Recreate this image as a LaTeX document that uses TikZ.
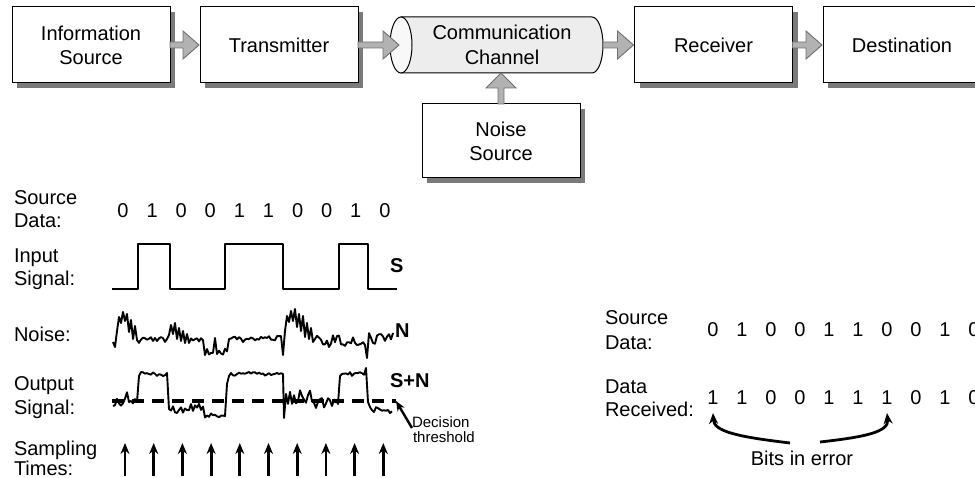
\documentclass[tikz,border=0pt]{standalone}
\usepackage{fontspec}
\setmainfont{Liberation Sans}
\usetikzlibrary{arrows.meta,shadows,calc}

\definecolor{arrowgray}{HTML}{B2B2B2}
\definecolor{arrowedge}{HTML}{6F6F6F}
\definecolor{shadowgray}{HTML}{7A7A7A}
\definecolor{chanbody}{HTML}{EDEDED}
\definecolor{chanend}{HTML}{F8F8F8}

% grey block arrow between two points (horizontal, centred on the end point)
\newcommand\flowarrow[2]{%
  \path[blockarrow] let \p1=(#1), \p2=(#2) in
    (\x1,\y2+3pt) -- (\x2-16pt,\y2+3pt) -- (\x2-16pt,\y2+14pt) -- (\x2,\y2)
    -- (\x2-16pt,\y2-14pt) -- (\x2-16pt,\y2-3pt) -- (\x1,\y2-3pt) -- cycle;}

\tikzset{
  every node/.style={inner sep=0pt, outer sep=0pt},
  box/.style={draw=black, line width=1pt, fill=white,
    minimum width=158pt, minimum height=76pt, align=center,
    font=\fontsize{20}{24}\selectfont,
    drop shadow={shadow xshift=5pt, shadow yshift=-5pt, fill=shadowgray, opacity=1}},
  blockarrow/.style={fill=arrowgray, draw=arrowedge, line width=0.9pt},
  lbl/.style={anchor=base west, font=\fontsize{20}{24}\selectfont},
  bit/.style={anchor=base, font=\fontsize{20}{24}\selectfont},
  tag/.style={anchor=base west, font=\bfseries\fontsize{20}{24}\selectfont},
  small/.style={anchor=base west, font=\fontsize{15}{17}\selectfont},
  wave/.style={line width=1.9pt, line join=round},
  pointer/.style={line width=2.8pt, -{Stealth[length=11pt,width=9pt]}},
}

\begin{document}
\begin{tikzpicture}[x=1pt, y=-1pt]
\useasboundingbox (0,0) rectangle (975,478);
\pgfmathsetseed{4}

% ---------------- block diagram ----------------
\node[box] (src) at (91,45)  {Information\\Source};
\node[box] (tx)  at (279,45) {Transmitter};
\node[box] (rx)  at (713.5,45) {Receiver};
\node[box] (dst) at (902,45) {Destination};
\node[box, minimum height=74pt] (noise) at (501,141) {Noise\\Source};

% channel drawn as a horizontal cylinder
\draw[line width=1pt, fill=chanbody] (401,17) -- (592,17)
  arc[start angle=-90, end angle=90, x radius=11, y radius=28]
  -- (401,73) -- cycle;
\draw[line width=1pt, fill=chanend] (401,45) ellipse [x radius=11, y radius=28];
\node[minimum width=202pt, minimum height=56pt, align=center,
      font=\fontsize{20}{25}\selectfont] (chan) at (502,45) {Communication\\Channel};

\flowarrow{src.east}{[xshift=-1pt]tx.west}
\flowarrow{tx.east}{[xshift=-2pt]chan.west}
\flowarrow{chan.east}{[xshift=-1pt]rx.west}
\flowarrow{rx.east}{[xshift=-1pt]dst.west}
\path[blockarrow] let \p1=(noise.north), \p2=(chan.south) in
  (\x1-3pt,\y1) -- (\x1-3pt,\y2-15pt) -- (\x1-15pt,\y2-15pt) -- (\x1,\y2)
  -- (\x1+15pt,\y2-15pt) -- (\x1+3pt,\y2-15pt) -- (\x1+3pt,\y1) -- cycle;

% ---------------- waveforms ----------------
\node[lbl] (l1a) at (14,205) {Source};
\node[lbl] (l1b) at (14,228) {Data:};
\node[lbl] (l2a) at (14,263) {Input};
\node[lbl] (l2b) at (14,286) {Signal:};
\node[lbl] (l3)  at (14,342) {Noise:};
\node[lbl] (l4a) at (14,390) {Output};
\node[lbl] (l4b) at (14,414) {Signal:};
\node[lbl] (l5a) at (14,455) {Sampling};
\node[lbl] (l5b) at (14,475) {Times:};

\foreach \v [count=\i from 0] in {0,1,0,0,1,1,0,0,1,0}
  \node[bit] (sa\i) at ({123+29.1*\i},218) {\v};

% input signal
\draw[wave, line width=1.6pt] (112,289) -- (138,289) -- (138,244) -- (170,244) -- (170,289)
  -- (225,289) -- (225,244) -- (283,244) -- (283,289) -- (339,289)
  -- (339,244) -- (368,244) -- (368,289) -- (397,289);
\node[tag] (stag) at (390,273) {S};

% noise
\draw[wave] (113,342) -- (115,347) -- (117,331) -- (119,317) -- (121,323)
  -- (123,312) -- (125,321) -- (127,314) -- (129,332) -- (131,320)
  -- (133,339) -- (135,326) -- (137,340)
  \foreach \x in {139,141,...,167} { -- (\x,{340+3.5*rand}) }
  -- (169,335) -- (171,325) -- (173,334) -- (175,323) -- (177,339)
  -- (179,328) -- (181,341) -- (183,331) -- (185,343) -- (187,334) -- (189,343)
  \foreach \x in {191,193,...,203} { -- (\x,{342+4*rand}) }
  -- (205,355)
  \foreach \x in {207,209,...,213} { -- (\x,{353+4*rand}) }
  -- (215,338) -- (217,354)
  \foreach \x in {219,221,...,227} { -- (\x,{352+4*rand}) }
  -- (229,339)
  \foreach \x in {231,233,...,281} { -- (\x,{340-0.06*(\x-231)+3*rand}) }
  -- (283,355) -- (285,331) -- (287,316) -- (289,322) -- (291,311)
  -- (293,321) -- (295,309) -- (297,327) -- (299,314) -- (301,331)
  -- (303,316) -- (305,337) -- (307,323) -- (309,339) -- (311,328) -- (313,342)
  \foreach \x in {315,317,...,365} { -- (\x,{341+6*rand}) }
  -- (367,358)
  \foreach \x in {369,371,...,391} { -- (\x,{339+6*rand}) }
  -- (393,333);
\node[tag] (ntag) at (395,338) {N};

% output signal = signal + noise
\draw[wave] (113,406)
  \foreach \x in {115,117,...,135} { -- (\x,{399+7*rand}) }
  -- (137,402) -- (139,376) -- (141,372)
  \foreach \x in {143,145,...,165} { -- (\x,{374+2*rand}) }
  -- (167,373) -- (169,409)
  \foreach \x in {171,173,...,203} { -- (\x,{408+5*rand}) }
  \foreach \x in {205,207,...,223} { -- (\x,{415+3.5*rand}) }
  -- (225,416) -- (227,384) -- (229,376)
  \foreach \x in {231,233,...,281} { -- (\x,{374+2*rand}) }
  -- (283,374) -- (284,418)
  \foreach \x in {286,288,...,310} { -- (\x,{396+8*rand}) }
  \foreach \x in {312,314,...,336} { -- (\x,{403+5*rand}) }
  -- (338,404) -- (340,376) -- (342,374)
  \foreach \x in {344,346,...,364} { -- (\x,{374+2*rand}) }
  -- (366,368) -- (368,402)
  \foreach \x in {370,372,...,392} { -- (\x,{410+3.5*rand}) };
\node[tag] (sntag) at (390,388) {S+N};

% decision threshold
\coordinate (th0) at (112,401);
\coordinate (th1) at (396,401);
\draw[line width=3.2pt, dash pattern=on 12pt off 8pt] (th0) -- (th1);
\node[small] (dec1) at (412,428) {Decision};
\node[small] (dec2) at (413,442) {threshold};
\draw[line width=2.4pt, -{Stealth[length=10pt,width=8pt]}] (dec1.base west) -- (th1);

% sampling instants
\foreach \i in {0,...,9} {
  \coordinate (ts\i) at ({125+28.7*\i},476);
  \coordinate (te\i) at ({125+28.7*\i},443);
  \draw[pointer] (ts\i) -- (te\i);
}

% ---------------- received data ----------------
\node[lbl] (r1a) at (605,325) {Source};
\node[lbl] (r1b) at (605,350) {Data:};
\node[lbl] (r2a) at (605,394) {Data};
\node[lbl] (r2b) at (605,417) {Received:};

\foreach \v [count=\i from 0] in {0,1,0,0,1,1,0,0,1,0}
  \node[bit] (sb\i) at ({713+29.0*\i},337) {\v};
\foreach \v [count=\i from 0] in {1,1,0,0,1,1,1,0,1,0}
  \node[bit] (rb\i) at ({713+29.0*\i},405) {\v};

\node[bit] (bits) at (802,465) {Bits in error};
\coordinate (bl) at (790,443);
\coordinate (br) at (820,442);
\draw[pointer] (bl) .. controls (740,437) and (714,432) .. ([yshift=-8pt]rb0.south);
\draw[pointer] (br) .. controls (865,437) and (889,432) .. ([yshift=-8pt]rb6.south);
\end{tikzpicture}
\end{document}
